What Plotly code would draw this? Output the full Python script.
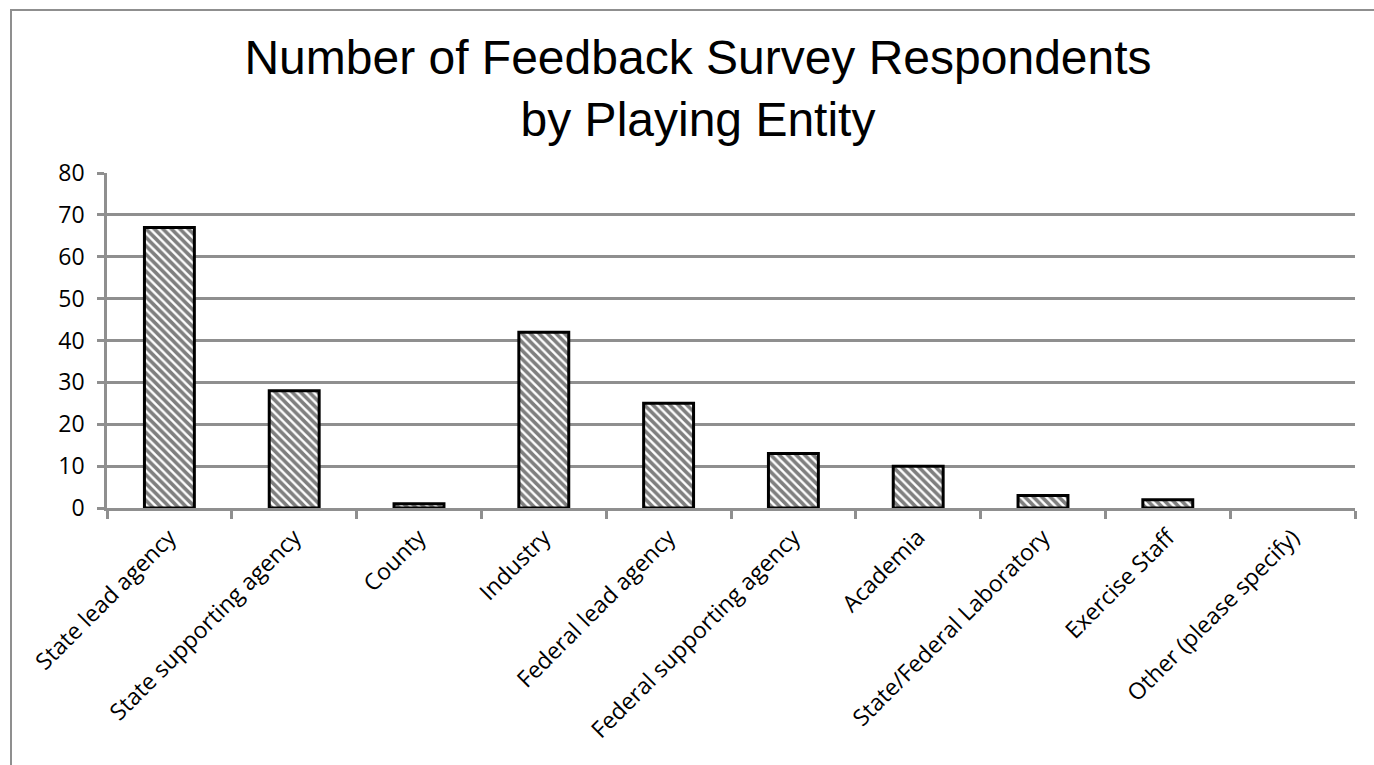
import plotly.graph_objects as go

categories = ["State lead agency", "State supporting agency", "County", "Industry",
              "Federal lead agency", "Federal supporting agency", "Academia",
              "State/Federal Laboratory", "Exercise Staff", "Other (please specify)"]
respondents = [67, 28, 1, 42, 25, 13, 10, 3, 2, 0]
y_ticks = [0, 10, 20, 30, 40, 50, 60, 70, 80]

W, H = 1374, 765
L, R, T, B = 107, 19, 173, 257
pw, ph = W - L - R, H - T - B

fig = go.Figure(go.Bar(
    x=categories, y=respondents,
    marker=dict(color="white",
                line=dict(color="black", width=[3 if v > 0 else 0 for v in respondents]),
                pattern=dict(shape="\\", fgcolor="black", bgcolor="white",
                             size=6, solidity=0.6)),
    width=0.4,
))

grid = "#8f8f8f"
fig.update_layout(
    width=W, height=H,
    margin=dict(l=L, r=R, t=T, b=B),
    paper_bgcolor="white", plot_bgcolor="white",
    showlegend=False,
    title=dict(text="Number of Feedback Survey Respondents<br>by Playing Entity",
               x=698 / W, xref="container", xanchor="center",
               y=1 - 74 / H, yanchor="middle", yref="container",
               font=dict(family="Liberation Sans, Arial", size=48, color="black")),
    font=dict(family="Open Sans", color="black"),
    xaxis=dict(tickangle=-45, tickson="boundaries", ticks="outside", ticklen=8,
               tickcolor=grid, tickwidth=2.5, showgrid=False, showline=True,
               linecolor=grid, linewidth=2.5, ticklabelstandoff=4,
               tickfont=dict(size=23, family="Open Sans", color="black"),
               range=[-0.5, len(categories) - 0.5]),
    yaxis=dict(range=[0, 80], tickvals=y_ticks, ticks="outside", ticklen=7,
               tickcolor=grid, tickwidth=2.5, showgrid=True, gridcolor=grid,
               gridwidth=2.5, showline=True, linecolor=grid, linewidth=2.5,
               zeroline=False, ticklabelstandoff=8,
               tickfont=dict(size=23, family="Open Sans", color="black")),
)

# outer chart border (decorative frame)
bx0 = (11 - L) / pw
by1 = 1 + (T - 10) / ph
fig.add_shape(type="rect", xref="paper", yref="paper",
              x0=bx0, x1=1.2, y0=-1.2, y1=by1,
              line=dict(color="#8f8f8f", width=2), layer="below")

fig.write_html("out.html")
